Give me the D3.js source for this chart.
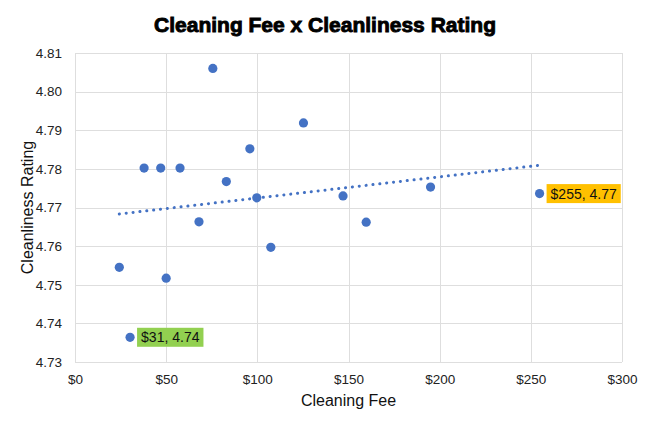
<!DOCTYPE html>
<html>
<head>
<meta charset="utf-8">
<script src="https://cdn.jsdelivr.net/npm/d3@7"></script>
<style>
  body { margin: 0; background: #fff; }
  text { font-family: "Liberation Sans", Arial, sans-serif; }
</style>
</head>
<body>
<svg id="chart" width="650" height="422"></svg>
<script>
// cleaning fee ($) and cleanliness rating
const fees = [24.3, 30.2, 37.9, 47, 57.6, 50, 68, 75.6, 83, 95.9, 99.7, 107.4, 125.3, 147, 159.7, 195, 254.8];
const ratings = [4.7545, 4.7364, 4.7802, 4.7802, 4.7802, 4.7517, 4.7663, 4.806, 4.7767, 4.7852, 4.7725, 4.7597, 4.7919, 4.773, 4.7662, 4.7753, 4.7736];
const xTicks = [0, 50, 100, 150, 200, 250, 300];
const yTicks = [4.73, 4.74, 4.75, 4.76, 4.77, 4.78, 4.79, 4.80, 4.81];
// callouts: index into the data, label text, box colour
const callouts = [
  { i: 1, text: "$31, 4.74", fill: "#92d050" },
  { i: 16, text: "$255, 4.77", fill: "#ffc000" }
];

const margin = { top: 53, right: 28, bottom: 60, left: 75 };
const width = 650, height = 422;

const svg = d3.select("#chart");

const x = d3.scaleLinear().domain([0, 300]).range([margin.left, width - margin.right]);
const y = d3.scaleLinear().domain([4.73, 4.81]).range([height - margin.bottom, margin.top]);

// title
svg.append("text")
  .attr("x", 325)
  .attr("y", 32)
  .attr("text-anchor", "middle")
  .attr("font-size", 21)
  .attr("font-weight", "bold")
  .attr("stroke", "#000")
  .attr("stroke-width", 0.9)
  .text("Cleaning Fee x Cleanliness Rating");

// grid
const grid = svg.append("g").attr("stroke", "#dedede").attr("stroke-width", 1);
grid.selectAll(".gx").data(xTicks).join("line")
  .attr("x1", d => Math.round(x(d)) + 0.5).attr("x2", d => Math.round(x(d)) + 0.5)
  .attr("y1", y(4.81)).attr("y2", y(4.73));
grid.selectAll(".gy").data(yTicks).join("line")
  .attr("y1", d => Math.round(y(d)) + 0.5).attr("y2", d => Math.round(y(d)) + 0.5)
  .attr("x1", x(0)).attr("x2", x(300));

// axes (labels only, lines come from grid)
const xAxis = svg.append("g")
  .attr("transform", `translate(0,${y(4.73)})`)
  .call(d3.axisBottom(x).tickValues(xTicks).tickSize(0).tickPadding(12).tickFormat(d => "$" + d));
const yAxis = svg.append("g")
  .attr("transform", `translate(${x(0)},0)`)
  .call(d3.axisLeft(y).tickValues(yTicks).tickSize(0).tickPadding(13).tickFormat(d3.format(".2f")));
[xAxis, yAxis].forEach(a => {
  a.select(".domain").remove();
  a.selectAll("text")
    .attr("font-family", "'Liberation Sans', Arial, sans-serif")
    .attr("font-size", 13.5)
    .attr("fill", "#222");
});

// axis titles
svg.append("text")
  .attr("x", (x(0) + x(300)) / 2)
  .attr("y", 406)
  .attr("text-anchor", "middle")
  .attr("font-size", 16)
  .attr("fill", "#111")
  .text("Cleaning Fee");
svg.append("text")
  .attr("transform", `translate(33,${(y(4.73) + y(4.81)) / 2}) rotate(-90)`)
  .attr("text-anchor", "middle")
  .attr("font-size", 16)
  .attr("fill", "#111")
  .text("Cleanliness Rating");

// linear trend line (least squares over the points)
const mx = d3.mean(fees), my = d3.mean(ratings);
const slope = d3.sum(fees, (f, i) => (f - mx) * (ratings[i] - my)) / d3.sum(fees, f => (f - mx) ** 2);
const icpt = my - slope * mx;
const ext = d3.extent(fees);
svg.append("line")
  .attr("x1", x(ext[0])).attr("y1", y(icpt + slope * ext[0]))
  .attr("x2", x(ext[1])).attr("y2", y(icpt + slope * ext[1]))
  .attr("stroke", "#4472c4")
  .attr("stroke-width", 3)
  .attr("stroke-linecap", "round")
  .attr("stroke-dasharray", "0.1 6.8");

// points
svg.append("g").selectAll("circle")
  .data(fees)
  .join("circle")
  .attr("cx", d => x(d))
  .attr("cy", (d, i) => y(ratings[i]))
  .attr("r", 4.6)
  .attr("fill", "#4472c4");

// callout labels
const lab = svg.append("g").selectAll("g").data(callouts).join("g")
  .attr("transform", d => `translate(${x(fees[d.i]) + 7},${y(ratings[d.i])})`);
lab.append("rect")
  .attr("x", 0).attr("y", -9.5)
  .attr("height", 19)
  .attr("fill", d => d.fill);
lab.append("text")
  .attr("x", 4).attr("y", 5)
  .attr("font-size", 14)
  .attr("fill", "#111")
  .text(d => d.text);
lab.each(function () {
  const g = d3.select(this);
  const w = g.select("text").node().getComputedTextLength();
  g.select("rect").attr("width", w + 8);
});
</script>
</body>
</html>
